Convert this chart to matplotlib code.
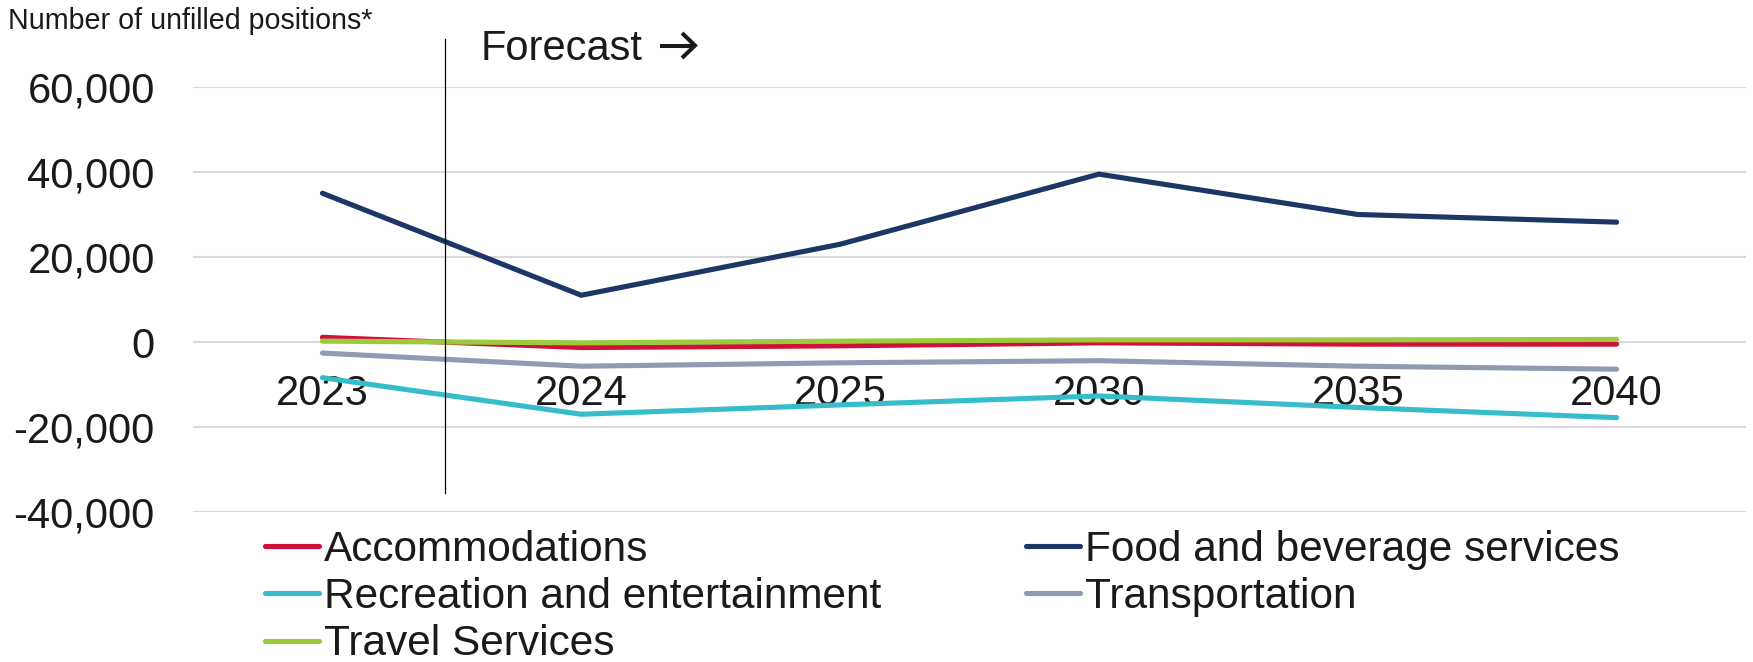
import matplotlib
matplotlib.use("Agg")
import matplotlib.pyplot as plt
from matplotlib.lines import Line2D
from matplotlib.ticker import FixedLocator

plt.rcParams['font.family'] = ['Liberation Sans', 'DejaVu Sans']

years = ["2023", "2024", "2025", "2030", "2035", "2040"]
accommodations = [1100, -1300, -900, -200, -500, -500]
food_beverage = [35000, 11000, 23000, 39500, 30000, 28200]
recreation = [-8400, -17000, -14800, -12700, -15400, -17800]
transportation = [-2600, -5700, -4900, -4400, -5700, -6400]
travel_services = [200, -200, 200, 500, 500, 600]

series_names = ["Accommodations", "Food and beverage services",
                "Recreation and entertainment", "Transportation", "Travel Services"]
series_vals = [accommodations, food_beverage, recreation, transportation, travel_services]
colors = ["#D0103A", "#1C3766", "#37BCCB", "#8F9BB3", "#9BCB3C"]

y_ticks = [-40000, -20000, 0, 20000, 40000, 60000]
y_labels = ["-40,000", "-20,000", "0", "20,000", "40,000", "60,000"]

W, H = 1753, 662
fig = plt.figure(figsize=(W / 100, H / 100), dpi=100)
ax = fig.add_axes([193 / W, 1 - 512 / H, (1746 - 193) / W, (512 - 87) / H])

x = list(range(len(years)))
handles = {}
for name, vals, c in zip(series_names, series_vals, colors):
    ln, = ax.plot(x, vals, color=c, lw=3.7, solid_capstyle='round',
                  solid_joinstyle='miter', zorder=3, label=name)
    handles[name] = ln

ax.set_xlim(-0.5, len(years) - 0.5)
ax.set_ylim(-40000, 60000)
ax.yaxis.set_major_locator(FixedLocator(y_ticks))
ax.set_yticklabels(y_labels)
ax.set_xticks(x)
ax.set_xticklabels(years)

for s in ax.spines.values():
    s.set_visible(False)
ax.spines['bottom'].set_position(('data', 0))
ax.grid(axis='y', color='#D9D9D9', lw=1.5, zorder=0)
ax.tick_params(axis='y', length=0, pad=27.5, labelsize=30, labelcolor='#1a1a1a')
ax.tick_params(axis='x', length=0, pad=23, labelsize=30, labelcolor='#1a1a1a')

# forecast divider
fx = 0.475
ax.plot([fx, fx], [71300, -35500], color='black', lw=0.9, clip_on=False, zorder=4)

fig.text(481 / W, 1 - 60 / H, "Forecast", fontsize=30, va='baseline', ha='left',
         color='#1a1a1a')
# arrow after "Forecast" (decoration, in figure pixel space)
ay = 1 - 45.5 / H
arrow_kw = dict(color='#1a1a1a', lw=2.9, solid_capstyle='butt', transform=fig.transFigure)
fig.add_artist(Line2D([660 / W, 694 / W], [ay, ay], **arrow_kw))
fig.add_artist(Line2D([682 / W, 695 / W, 682 / W],
                      [1 - 33 / H, ay, 1 - 58 / H],
                      solid_joinstyle='miter', **arrow_kw))

fig.text(8 / W, 1 - 21 / H, "Number of unfilled positions*", fontsize=20.6, va='center',
         ha='left', color='#1a1a1a')

order = ["Accommodations", "Recreation and entertainment", "Travel Services",
         "Food and beverage services", "Transportation"]
leg = fig.legend([handles[n] for n in order], order, loc='upper left',
                 bbox_to_anchor=(265 / W, 1 - 530 / H), ncol=2, frameon=False,
                 fontsize=30.5, handlelength=1.28, handletextpad=0.12,
                 columnspacing=3.4, labelspacing=0.17, borderpad=0, borderaxespad=0)
for t in leg.get_texts():
    t.set_color('#1a1a1a')

fig.savefig("out.png", dpi=100)
